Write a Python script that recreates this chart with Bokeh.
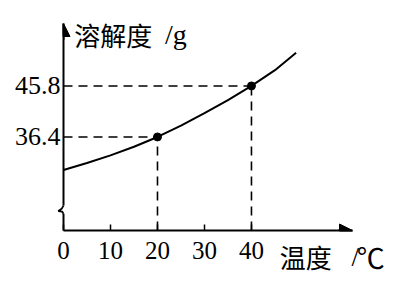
from bokeh.plotting import figure
from bokeh.models import (FixedTicker, Arrow, NormalHead, ColumnDataSource, Range1d)
from bokeh.core.properties import value
from bokeh.embed import file_html
from bokeh.resources import INLINE

# data
temps = [0, 5, 10, 15, 20, 25, 30, 35, 40, 45, 49.5]
solubility = [30.3, 31.6, 33.0, 34.6, 36.4, 38.5, 40.8, 43.2, 45.8, 48.7, 51.9]
mark_t = [20, 40]
mark_s = [36.4, 45.8]
x_ticks = [0, 10, 20, 30, 40]
y_ticks = [36.4, 45.8]
y_title = ["溶解度", "/g"]
x_title = ["温度", "/", "℃"]

X0, X1 = 0, 61.5
Y0, Y1 = 19.17, 57.3
BREAK_Y = 22.86

serif = "Liberation Serif"
cjk = "Noto Sans CJK SC"

p = figure(width=402, height=284, output_backend="svg", toolbar_location=None,
           x_range=Range1d(X0, X1), y_range=Range1d(Y0, Y1),
           min_border_left=63, min_border_right=50, min_border_top=23, min_border_bottom=54)
p.outline_line_color = None
p.xgrid.visible = False
p.ygrid.visible = False
p.background_fill_color = "white"
p.border_fill_color = "white"

for ax in (p.xaxis[0], p.yaxis[0]):
    ax.axis_line_width = 2
    ax.axis_line_color = "black"
    ax.major_label_text_font = serif
    ax.major_label_text_color = "black"
    ax.minor_tick_line_color = None

p.xaxis.ticker = FixedTicker(ticks=x_ticks)
p.xaxis.major_tick_in = 6
p.xaxis.major_tick_out = 0
p.xaxis.major_tick_line_width = 1.5
p.xaxis.major_label_text_font_size = "25px"
p.xaxis.major_label_standoff = 11

p.yaxis.ticker = FixedTicker(ticks=y_ticks)
p.yaxis.major_tick_in = 0
p.yaxis.major_tick_out = 0
p.yaxis.major_label_text_font_size = "26px"
p.yaxis.major_label_standoff = 3

# dashed guide lines
src = ColumnDataSource(dict(t=mark_t, s=mark_s, z=[0] * len(mark_t), b=[Y0] * len(mark_t)))
p.segment(x0="z", y0="s", x1="t", y1="s", source=src, line_dash="9 6", line_width=1.6, line_color="black")
p.segment(x0="t", y0="b", x1="t", y1="s", source=src, line_dash="9 6", line_width=1.6, line_color="black")

# curve
p.line(temps, solubility, line_width=2, line_color="black")
p.scatter("t", "s", source=src, size=8, color="black")

# arrows on axes
p.add_layout(Arrow(end=NormalHead(size=13, fill_color="black", line_color="black"),
                   x_start=X1 - 3, y_start=Y0, x_end=X1, y_end=Y0, line_width=2))
p.add_layout(Arrow(end=NormalHead(size=13, fill_color="black", line_color="black"),
                   x_start=0, y_start=Y1 - 3, x_end=0, y_end=Y1, line_width=2))

# axis break
r1 = p.segment(x0=[0], y0=[BREAK_Y + 0.9], x1=[0], y1=[BREAK_Y - 0.6], line_color="white", line_width=4)
r2 = p.line([0, -0.4, -1.1, -0.3, 0], [BREAK_Y + 0.9, BREAK_Y + 0.3, BREAK_Y - 0.1, BREAK_Y - 0.2, BREAK_Y - 0.6],
            line_color="black", line_width=1.8)
r1.level = "overlay"
r2.level = "overlay"

# axis titles
texts = []
texts.append(p.text(x=[2.3], y=[55.3], text=[y_title[0]], text_font=value(cjk), text_font_size="26px",
                    text_baseline="middle", text_color="black"))
texts.append(p.text(x=[21.6], y=[55.3], text=[y_title[1]], text_font=value(serif), text_font_size="28px",
                    text_baseline="middle", text_color="black"))
texts.append(p.text(x=[46.0], y=[14.3], text=[x_title[0]], text_font=value(cjk), text_font_size="26px",
                    text_baseline="middle", text_color="black"))
texts.append(p.text(x=[61.3], y=[14.3], text=[x_title[1]], text_font=value(serif), text_font_size="27px",
                    text_baseline="middle", text_color="black"))
texts.append(p.text(x=[62.4], y=[14.3], text=[x_title[2]], text_font=value(cjk), text_font_size="28px",
                    text_baseline="middle", text_color="black"))
for r in texts:
    r.level = "overlay"

open("out.html", "w").write(file_html(p, INLINE))
